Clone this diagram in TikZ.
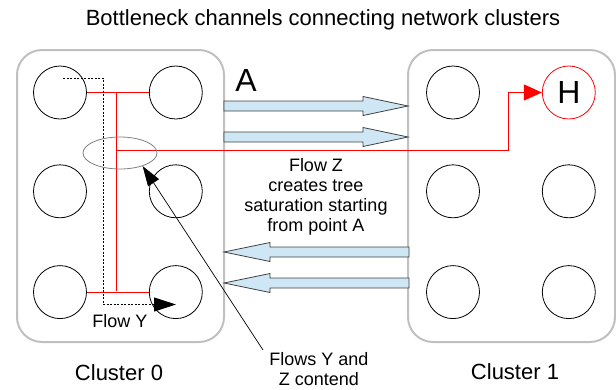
\documentclass[tikz,border=0pt]{standalone}
\usepackage{fontspec}
\setmainfont{Liberation Sans}
\usepackage{tikz}
\usetikzlibrary{arrows.meta, shapes.geometric, positioning}
\definecolor{colorBox}{RGB}{192,192,192}
\definecolor{colorChannel}{RGB}{207,231,245}
\definecolor{colorFlow}{RGB}{255,0,0}

\begin{document}
\begin{tikzpicture}[x=1pt, y=-1pt,
  cluster/.style={draw=colorBox, line width=2pt, rounded corners=25pt, minimum width=207pt, minimum height=292pt},
  host/.style={circle, draw, line width=0.8pt, minimum size=53pt, inner sep=0pt},
  channel/.style={draw=black!75, fill=colorChannel, line width=0.8pt},
  flowz/.style={draw=colorFlow, line width=1pt},
  flowy/.style={draw=black, line width=1pt, dash pattern=on 2pt off 1.5pt},
  label/.style={font=\fontsize{18}{20}\selectfont, align=center, inner sep=0pt},
  big/.style={font=\fontsize{22}{26}\selectfont, inner sep=0pt}]
\useasboundingbox (0,0) rectangle (616,389);
\node[cluster] (c0) at (120.5,196) {};
\node[cluster] (c1) at (511.5,196) {};
\node[host] (h00) at (60,92.5) {};
\node[host, right=62pt of h00] (h01) {};
\node[host, below=45pt of h00] (h02) {};
\node[host, right=62pt of h02] (h03) {};
\node[host, below=47pt of h02] (h04) {};
\node[host, right=62pt of h04] (h05) {};
\node[host] (h10) at (453,92.5) {};
\node[host, below=45pt of h10] (h12) {};
\node[host, right=62pt of h12] (h13) {};
\node[host, below=47pt of h12] (h14) {};
\node[host, right=62pt of h14] (h15) {};
\node[host, draw=colorFlow, right=62pt of h10, font=\fontsize{32}{36}\selectfont] (h11) {H};
\coordinate (jt) at (116.5,92.5);
\coordinate (jb) at (116.5,290.5);
\coordinate (ja) at (116.5,150.5);
\coordinate (zturn) at (508.5,150.5);
\draw[flowz] (h00) -- (h01) (h04) -- (h05) (jt) -- (jb);
\foreach \y in {106,137}
  \draw[channel] (224,\y-5) -- (363,\y-5) -- (363,\y-9.5) -- (408,\y) -- (363,\y+9.5) -- (363,\y+5) -- (224,\y+5) -- cycle;
\foreach \y in {252,283}
  \draw[channel] (409,\y-5) -- (270,\y-5) -- (270,\y-9.5) -- (224,\y) -- (270,\y+9.5) -- (270,\y+5) -- (409,\y+5) -- cycle;
\draw[flowz, -{Triangle[length=18pt,width=16pt]}] (ja) -- (zturn) |- (h11);
\coordinate (ys) at (63,78.5);
\coordinate (yturn) at (103.5,304.5);
\coordinate (ye) at (176,304.5);
\draw[flowy, -{Triangle[length=22pt,width=14pt]}] (ys) -| (yturn) -- (ye);
\node[ellipse, draw=gray, line width=0.8pt, minimum width=74pt, minimum height=32pt, inner sep=0pt] (contend) at (120,153) {};
\node[label] (contendlbl) at (319,369) {Flows Y and\\Z contend};
\coordinate (ptail) at (263,350);
\draw[line width=0.7pt, -{Triangle[length=20pt,width=13pt]}] (ptail) -- (contend.-30);
\node[big, anchor=base] (title) at (323,25) {Bottleneck channels connecting network clusters};
\node[font=\fontsize{32}{36}\selectfont, inner sep=0pt, anchor=base] (pointA) at (246,91) {A};
\node[label] (flowzlbl) at (316,197) {Flow Z\\creates tree\\saturation starting\\from point A};
\node[label, anchor=base] (flowylbl) at (120,327) {Flow Y};
\node[big, anchor=base] (c0lbl) at (119,380) {Cluster 0};
\node[big, anchor=base] (c1lbl) at (515,379) {Cluster 1};
\end{tikzpicture}
\end{document}
